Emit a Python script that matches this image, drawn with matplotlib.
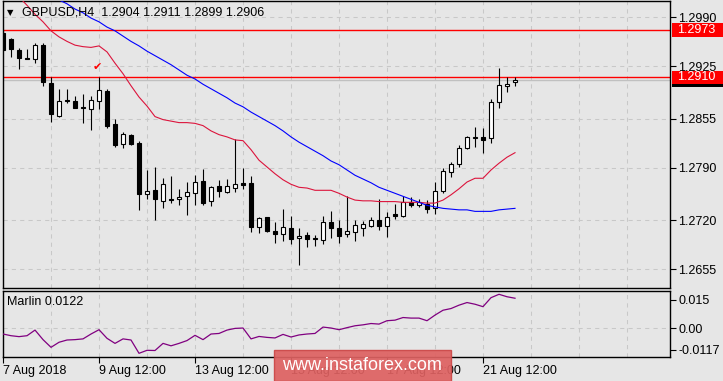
import numpy as np
import matplotlib.pyplot as plt
import matplotlib.transforms as mtransforms
from matplotlib.patches import Rectangle

plt.rcParams['font.family'] = ['Liberation Sans', 'DejaVu Sans']

# GBPUSD H4, 7 Aug - 21 Aug 2018
opens = [1.2969, 1.2961, 1.2947, 1.2936, 1.2935, 1.2953, 1.2903, 1.2859, 1.2880, 1.2879,
         1.2871, 1.2868, 1.2879, 1.2892, 1.2848, 1.2822, 1.2834, 1.2823, 1.2755, 1.2760,
         1.2746, 1.2748, 1.2748, 1.2752, 1.2756, 1.2772, 1.2746, 1.2766, 1.2758, 1.2763,
         1.2770, 1.2770, 1.2711, 1.2724, 1.2706, 1.2702, 1.2710, 1.2697, 1.2701, 1.2697,
         1.2694, 1.2718, 1.2710, 1.2702, 1.2705, 1.2710, 1.2712, 1.2721, 1.2712, 1.2728,
         1.2726, 1.2745, 1.2740, 1.2742, 1.2736, 1.2759, 1.2784, 1.2795, 1.2816, 1.2830,
         1.2831, 1.2830, 1.2878, 1.2899, 1.2904]
highs = [1.2972, 1.2963, 1.2949, 1.2948, 1.2956, 1.2956, 1.2911, 1.2895, 1.2895, 1.2885,
         1.2888, 1.2885, 1.2911, 1.2895, 1.2855, 1.2838, 1.2835, 1.2826, 1.2787, 1.2791,
         1.2776, 1.2779, 1.2762, 1.2771, 1.2780, 1.2788, 1.2766, 1.2774, 1.2775, 1.2828,
         1.2790, 1.2779, 1.2724, 1.2725, 1.2718, 1.2735, 1.2726, 1.2710, 1.2705, 1.2701,
         1.2726, 1.2732, 1.2720, 1.2752, 1.2720, 1.2719, 1.2724, 1.2748, 1.2731, 1.2742,
         1.2752, 1.2751, 1.2748, 1.2747, 1.2771, 1.2790, 1.2798, 1.2820, 1.2832, 1.2844,
         1.2843, 1.2881, 1.2922, 1.2910, 1.2911]
lows = [1.2946, 1.2937, 1.2921, 1.2934, 1.2929, 1.2899, 1.2851, 1.2858, 1.2876, 1.2870,
        1.2850, 1.2840, 1.2868, 1.2843, 1.2818, 1.2816, 1.2820, 1.2734, 1.2748, 1.2720,
        1.2736, 1.2743, 1.2740, 1.2727, 1.2740, 1.2740, 1.2739, 1.2751, 1.2756, 1.2758,
        1.2762, 1.2705, 1.2703, 1.2705, 1.2690, 1.2693, 1.2689, 1.2661, 1.2685, 1.2686,
        1.2689, 1.2697, 1.2690, 1.2698, 1.2693, 1.2699, 1.2711, 1.2707, 1.2698, 1.2722,
        1.2725, 1.2738, 1.2738, 1.2730, 1.2728, 1.2756, 1.2778, 1.2791, 1.2815, 1.2818,
        1.2810, 1.2823, 1.2870, 1.2891, 1.2899]
closes = [1.2947, 1.2948, 1.2936, 1.2935, 1.2953, 1.2904, 1.2861, 1.2879, 1.2879, 1.2870,
          1.2870, 1.2880, 1.2893, 1.2846, 1.2820, 1.2835, 1.2821, 1.2755, 1.2759, 1.2748,
          1.2768, 1.2747, 1.2751, 1.2758, 1.2771, 1.2743, 1.2764, 1.2759, 1.2766, 1.2768,
          1.2767, 1.2711, 1.2723, 1.2706, 1.2702, 1.2711, 1.2695, 1.2699, 1.2695, 1.2695,
          1.2718, 1.2710, 1.2699, 1.2706, 1.2714, 1.2715, 1.2721, 1.2712, 1.2725, 1.2726,
          1.2744, 1.2740, 1.2744, 1.2735, 1.2759, 1.2786, 1.2795, 1.2816, 1.2831, 1.2831,
          1.2827, 1.2877, 1.2900, 1.2902, 1.2906]

ma_fast = [1.3040, 1.3028, 1.3017, 1.3006, 1.2994, 1.2984, 1.2972, 1.2964, 1.2958, 1.2953,
           1.2951, 1.2950, 1.2952, 1.2944, 1.2929, 1.2915, 1.2899, 1.2884, 1.2872, 1.2858,
           1.2854, 1.2852, 1.2850, 1.2850, 1.2849, 1.2846, 1.2839, 1.2834, 1.2831, 1.2827,
           1.2826, 1.2814, 1.2800, 1.2791, 1.2782, 1.2774, 1.2768, 1.2764, 1.2763, 1.2760,
           1.2760, 1.2760, 1.2756, 1.2751, 1.2747, 1.2746, 1.2746, 1.2745, 1.2745, 1.2745,
           1.2744, 1.2744, 1.2744, 1.2743, 1.2743, 1.2747, 1.2754, 1.2762, 1.2771, 1.2776,
           1.2776, 1.2787, 1.2796, 1.2804, 1.2810]
ma_slow = [1.3056, 1.3050, 1.3044, 1.3037, 1.3032, 1.3025, 1.3020, 1.3013, 1.3008, 1.3001,
           1.2996, 1.2989, 1.2984, 1.2977, 1.2972, 1.2965, 1.2958, 1.2952, 1.2945, 1.2939,
           1.2933, 1.2927, 1.2920, 1.2913, 1.2908, 1.2901, 1.2895, 1.2889, 1.2883, 1.2876,
           1.2871, 1.2864, 1.2858, 1.2852, 1.2846, 1.2839, 1.2831, 1.2824, 1.2818, 1.2812,
           1.2806, 1.2799, 1.2794, 1.2787, 1.2780, 1.2775, 1.2770, 1.2764, 1.2760, 1.2756,
           1.2752, 1.2748, 1.2744, 1.2740, 1.2738, 1.2736, 1.2735, 1.2734, 1.2734, 1.2732,
           1.2732, 1.2732, 1.2734, 1.2735, 1.2736]
marlin = [-0.0032, -0.0041, -0.0046, -0.0041, -0.0011, -0.0062, -0.0103, -0.0076, -0.0064, -0.0062,
          -0.0058, -0.0032, -0.0009, -0.0055, -0.0082, -0.0058, -0.0064, -0.0135, -0.0119, -0.0120,
          -0.0082, -0.0095, -0.0082, -0.0067, -0.0039, -0.0062, -0.0032, -0.0029, -0.0011, -0.0002,
          0.0000, -0.0058, -0.0045, -0.0050, -0.0053, -0.0034, -0.0048, -0.0037, -0.0032, -0.0029,
          0.0005, 0.0000, -0.0009, 0.0002, 0.0012, 0.0017, 0.0024, 0.0021, 0.0039, 0.0042,
          0.0056, 0.0053, 0.0053, 0.0039, 0.0069, 0.0095, 0.0104, 0.0122, 0.0136, 0.0127,
          0.0114, 0.0162, 0.0180, 0.0167, 0.0159]

levels = [1.2973, 1.2910]
price_ticks = [1.2990, 1.2925, 1.2855, 1.2790, 1.2720, 1.2655]
marlin_ticks = [0.015, 0.0, -0.0117]
marlin_labels = ['0.015', '0.00', '-0.0117']
date_pos = [0, 12, 24, 36, 48, 60]
date_labels = ['7 Aug 2018', '9 Aug 12:00', '13 Aug 12:00', '15 Aug 12:00',
               '17 Aug 12:00', '21 Aug 12:00']

BG = '#E6E6E6'
GRID = '#C8C8C8'
W, H = 723, 381

fig = plt.figure(figsize=(W / 100, H / 100), dpi=100, facecolor=BG)
# pixel layout of the terminal window
ax = fig.add_axes([2.7 / W, 1 - 288 / H, (670 - 2.7) / W, 287 / H])
ax2 = fig.add_axes([2.7 / W, 1 - 357 / H, (670 - 2.7) / W, 66.5 / H])

for a in (ax, ax2):
    a.set_facecolor(BG)
    a.set_xlim(-0.04, 83.375)
    for s in a.spines.values():
        s.set_color('black')
        s.set_linewidth(1.0)
    a.set_xticks(np.arange(0, 84, 6), minor=True)
    a.grid(True, which='both', axis='x', color=GRID, linestyle=(0, (4, 4)), linewidth=0.75)
    a.yaxis.tick_right()
    a.tick_params(axis='y', length=4, width=0.8, pad=2, labelsize=9, colors='black')
    a.tick_params(axis='x', which='minor', length=0)

# ---- price pane ----
ax.set_ylim(1.26301, 1.30117)
ax.set_yticks(price_ticks)
ax.set_yticklabels(['%.4f' % p for p in price_ticks])
ax.grid(True, axis='y', color=GRID, linestyle=(0, (4, 4)), linewidth=0.75)
ax.set_xticks(date_pos)
ax.tick_params(axis='x', which='major', length=0, labelbottom=False)
ax.set_axisbelow(True)

o = np.array(opens); c = np.array(closes)
idx = np.arange(len(o))
ax.vlines(idx, lows, highs, color='black', linewidth=0.8, zorder=3)
up = c >= o
ax.bar(idx[up], (c - o)[up], bottom=o[up], width=0.6, color='white',
       edgecolor='black', linewidth=0.8, zorder=4)
ax.bar(idx[~up], (c - o)[~up], bottom=o[~up], width=0.6, color='black',
       edgecolor='black', linewidth=0.8, zorder=4)

ax.plot(idx, ma_fast, color='#DC143C', linewidth=0.8, zorder=5)
ax.plot(idx, ma_slow, color='#0000FF', linewidth=0.8, zorder=5)

ax.axhline(closes[-1], color='#C0C0C0', linewidth=1.0, zorder=2)
for lv in levels:
    ax.axhline(lv, color='red', linewidth=1.0, zorder=2)

ax.annotate('\u2714', xy=(12, highs[12]), xytext=(-1, 7), textcoords='offset points',
            ha='center', va='center', color='red', fontsize=8, family='DejaVu Sans')

# price labels on the right scale
span = ax.get_ylim()[1] - ax.get_ylim()[0]
hh = span * 6.7 / 287
bt = mtransforms.blended_transform_factory(fig.transFigure, ax.transData)
fig.add_artist(Rectangle((672 / W, closes[-1] - hh), 51 / W, 2 * hh, transform=bt,
                         facecolor='black', edgecolor='none'))
for lv in levels:
    fig.add_artist(Rectangle((672 / W, lv - hh), 51 / W, 2 * hh, transform=bt,
                             facecolor='#FF0000', edgecolor='none'))
    fig.text(677 / W, lv, '%.4f' % lv, transform=bt, color='white', fontsize=9,
             va='center', ha='left')

fig.text(10 / W, 1 - 12.5 / H, '\u25BC', fontsize=6, family='DejaVu Sans',
         va='center', ha='center', color='black')
fig.text(22 / W, 1 - 12.7 / H, 'GBPUSD,H4  %.4f %.4f %.4f %.4f'
         % (opens[-1], highs[-1], lows[-1], closes[-1]),
         fontsize=9, va='center', ha='left', color='black')

# ---- indicator pane ----
ax2.set_ylim(-0.01547, 0.02003)
ax2.set_yticks(marlin_ticks)
ax2.set_yticklabels(marlin_labels)
ax2.axhline(0, color=GRID, linestyle=(0, (4, 4)), linewidth=0.75, zorder=1)
ax2.plot(idx, marlin, color='#800080', linewidth=0.9, zorder=3)
ax2.set_xticks(date_pos)
ax2.set_xticklabels(date_labels, ha='left')
ax2.tick_params(axis='x', which='major', length=4, width=0.8, pad=1.5, labelsize=9)
ax2.text(7 / W, 1 - 301.7 / H, 'Marlin 0.0122', transform=fig.transFigure,
         fontsize=9, va='center', ha='left')

# watermark
fig.add_artist(Rectangle((274 / W, 0), 177 / W, 31 / H, transform=fig.transFigure,
                         facecolor=(0.87, 0.38, 0.38), alpha=0.92, edgecolor=(0.8, 0.28, 0.28),
                         linewidth=1, zorder=10))
fig.text(362 / W, 1 - 366 / H, 'www.instaforex.com', fontsize=13, color='white',
         ha='center', va='center', zorder=11)

fig.savefig('out.png', dpi=100, facecolor=BG)
